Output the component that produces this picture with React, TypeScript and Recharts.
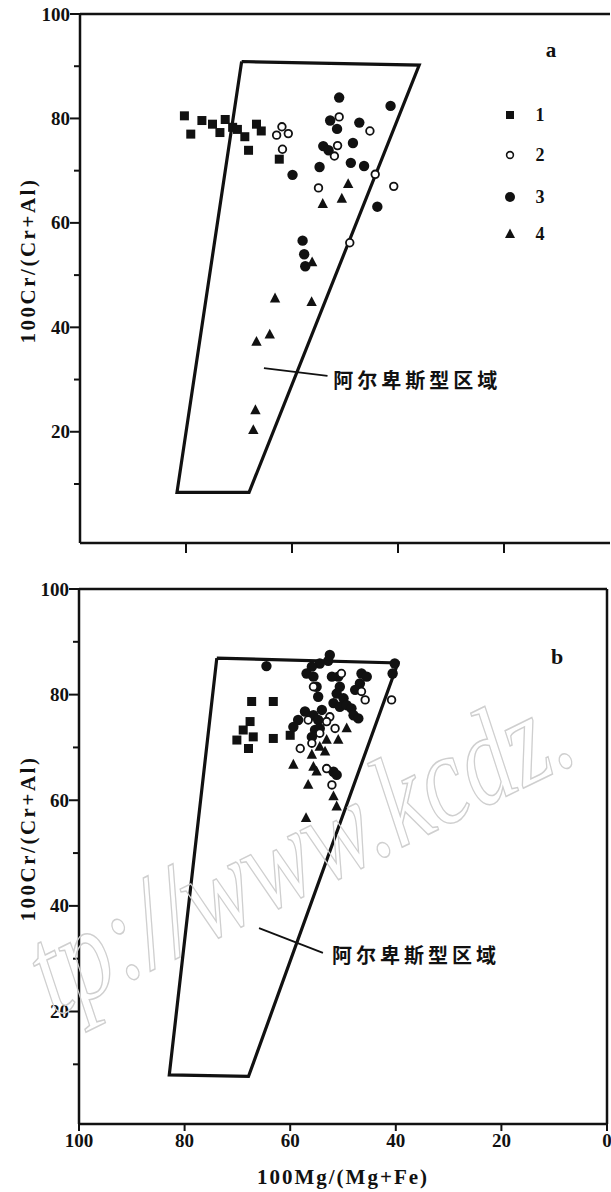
import React from "react";
import {
  ScatterChart,
  Scatter,
  XAxis,
  YAxis,
  ReferenceLine,
  Legend,
  Label,
} from "recharts";

// axes
const xTicks = [100, 80, 60, 40, 20, 0];
const yTicks = [10, 20, 30, 40, 50, 60, 70, 80, 90, 100];
const yLabelled = [20, 40, 60, 80, 100];
const legendLabels = ["1", "2", "3", "4"];
const regionName = "阿尔卑斯型区域";
const watermark = "tp://www.kcdz.";

// panel a
const aRegion = [
  { x: 69.5, y: 90.9 },
  { x: 36.0, y: 90.2 },
  { x: 68.1, y: 8.4 },
  { x: 81.7, y: 8.4 },
  { x: 69.5, y: 90.9 },
];
const aType1 = [
  { x: 80.3, y: 80.5 }, { x: 79.1, y: 77.0 }, { x: 77.0, y: 79.6 }, { x: 75.0, y: 78.9 },
  { x: 73.6, y: 77.3 }, { x: 72.6, y: 79.8 }, { x: 71.2, y: 78.3 }, { x: 70.3, y: 77.9 },
  { x: 68.9, y: 76.5 }, { x: 68.2, y: 73.9 }, { x: 66.7, y: 78.9 }, { x: 65.8, y: 77.6 },
  { x: 62.4, y: 72.2 },
];
const aType2 = [
  { x: 61.9, y: 78.4 }, { x: 62.9, y: 76.8 }, { x: 60.7, y: 77.1 }, { x: 61.8, y: 74.1 },
  { x: 51.1, y: 80.3 }, { x: 45.3, y: 77.6 }, { x: 51.4, y: 74.8 }, { x: 52.0, y: 72.8 },
  { x: 55.0, y: 66.7 }, { x: 40.8, y: 67.0 }, { x: 44.3, y: 69.3 }, { x: 49.1, y: 56.2 },
];
const aType3 = [
  { x: 51.1, y: 84.0 }, { x: 41.4, y: 82.4 }, { x: 52.8, y: 79.6 }, { x: 51.5, y: 78.0 },
  { x: 47.3, y: 79.2 }, { x: 48.5, y: 75.3 }, { x: 54.1, y: 74.7 }, { x: 53.1, y: 73.9 },
  { x: 54.8, y: 70.7 }, { x: 48.9, y: 71.5 }, { x: 46.4, y: 70.9 }, { x: 59.9, y: 69.2 },
  { x: 43.9, y: 63.1 }, { x: 58.0, y: 56.6 }, { x: 57.7, y: 54.0 }, { x: 57.5, y: 51.7 },
];
const aType4 = [
  { x: 49.4, y: 67.4 }, { x: 50.6, y: 64.6 }, { x: 54.2, y: 63.6 }, { x: 56.2, y: 52.4 },
  { x: 63.2, y: 45.5 }, { x: 56.3, y: 44.8 }, { x: 66.7, y: 37.2 }, { x: 64.2, y: 38.6 },
  { x: 66.9, y: 24.1 }, { x: 67.3, y: 20.3 },
];
const aLeader = [{ x: 65.3, y: 32.2 }, { x: 53.3, y: 30.7 }];
const aNote = [{ x: 52.2, y: 30.1 }];

// panel b
const bRegion = [
  { x: 73.9, y: 86.9 },
  { x: 39.6, y: 86.0 },
  { x: 67.9, y: 7.7 },
  { x: 82.9, y: 8.0 },
  { x: 73.9, y: 86.9 },
];
const bType1 = [
  { x: 67.3, y: 78.7 }, { x: 63.2, y: 78.7 }, { x: 67.6, y: 74.9 }, { x: 68.9, y: 73.3 },
  { x: 67.0, y: 72.0 }, { x: 70.1, y: 71.4 }, { x: 67.9, y: 69.8 }, { x: 63.2, y: 71.7 },
  { x: 60.0, y: 72.3 },
];
const bType2 = [
  { x: 50.3, y: 84.0 }, { x: 55.6, y: 81.5 }, { x: 46.5, y: 80.6 }, { x: 45.8, y: 79.0 },
  { x: 40.8, y: 79.0 }, { x: 56.6, y: 75.2 }, { x: 52.5, y: 75.8 }, { x: 51.5, y: 73.6 },
  { x: 54.4, y: 72.7 }, { x: 55.9, y: 70.8 }, { x: 58.1, y: 69.8 }, { x: 53.1, y: 66.0 },
  { x: 52.1, y: 62.9 }, { x: 53.1, y: 74.9 },
];
const bType3 = [
  { x: 64.5, y: 85.4 }, { x: 52.5, y: 87.5 }, { x: 52.8, y: 86.4 }, { x: 54.4, y: 85.9 },
  { x: 55.9, y: 85.3 }, { x: 56.9, y: 84.0 }, { x: 55.6, y: 83.4 }, { x: 55.0, y: 81.5 },
  { x: 54.7, y: 79.6 }, { x: 50.9, y: 83.4 }, { x: 50.6, y: 81.5 }, { x: 51.2, y: 80.2 },
  { x: 49.9, y: 79.3 }, { x: 51.8, y: 78.4 }, { x: 50.6, y: 77.7 }, { x: 49.3, y: 78.0 },
  { x: 48.4, y: 77.4 }, { x: 48.0, y: 76.1 }, { x: 47.1, y: 75.5 }, { x: 46.5, y: 84.0 },
  { x: 46.8, y: 82.1 }, { x: 45.5, y: 83.4 }, { x: 47.7, y: 80.9 }, { x: 40.2, y: 85.9 },
  { x: 40.6, y: 84.0 }, { x: 52.1, y: 83.4 }, { x: 57.2, y: 76.8 }, { x: 58.5, y: 75.2 },
  { x: 59.4, y: 73.9 }, { x: 55.6, y: 76.1 }, { x: 54.7, y: 75.2 }, { x: 55.3, y: 73.3 },
  { x: 55.9, y: 72.0 }, { x: 54.4, y: 73.6 }, { x: 51.8, y: 65.4 }, { x: 51.2, y: 64.8 },
  { x: 54.0, y: 77.1 },
];
const bType4 = [
  { x: 49.3, y: 73.6 }, { x: 50.9, y: 71.4 }, { x: 53.1, y: 71.4 }, { x: 53.4, y: 69.2 },
  { x: 55.3, y: 72.7 }, { x: 55.9, y: 68.6 }, { x: 59.4, y: 66.7 }, { x: 55.6, y: 66.3 },
  { x: 55.0, y: 65.4 }, { x: 56.6, y: 62.9 }, { x: 51.8, y: 60.7 }, { x: 51.2, y: 58.8 },
  { x: 57.0, y: 56.6 }, { x: 54.4, y: 70.1 },
];
const bLeader = [{ x: 65.9, y: 35.8 }, { x: 53.8, y: 31.1 }];
const bNote = [{ x: 52.1, y: 30.7 }];

const SERIF = "'Liberation Serif', 'Times New Roman', serif";
const CJK = "'Noto Sans CJK SC', sans-serif";
const INK = "#111";

const Square = (p: any) => (
  <rect x={p.cx - 4.5} y={p.cy - 4.5} width={9} height={9} fill={INK} />
);
const OpenCircle = (p: any) => (
  <circle cx={p.cx} cy={p.cy} r={3.8} fill="#fff" stroke={INK} strokeWidth={1.8} />
);
const Dot = (p: any) => <circle cx={p.cx} cy={p.cy} r={5.2} fill={INK} />;
const Tri = (p: any) => (
  <polygon
    points={`${p.cx},${p.cy - 6} ${p.cx + 5.2},${p.cy + 3.8} ${p.cx - 5.2},${p.cy + 3.8}`}
    fill={INK}
  />
);
const Nothing = () => <g />;
const NoteText = (p: any) => (
  <text
    x={p.cx}
    y={p.cy}
    dominantBaseline="central"
    fontFamily={CJK}
    fontWeight={700}
    fontSize={20}
    letterSpacing={4}
    fill={INK}
  >
    {regionName}
  </text>
);

function YTick(props: any) {
  const { x, y, payload } = props;
  const major = yLabelled.includes(payload.value);
  return (
    <g>
      <line x1={x - (major ? 10 : 6)} x2={x} y1={y} y2={y} stroke={INK} strokeWidth={2} />
      {major && (
        <text
          x={x - 10}
          y={y}
          dy={6.5}
          textAnchor="end"
          fontFamily={SERIF}
          fontWeight="bold"
          fontSize={19}
          fill={INK}
        >
          {payload.value}
        </text>
      )}
    </g>
  );
}

function XTickA(props: any) {
  const { x, y } = props;
  return <line x1={x} x2={x} y1={y} y2={y + 10} stroke={INK} strokeWidth={2} />;
}

function XTickB(props: any) {
  const { x, y, payload } = props;
  return (
    <g>
      <line x1={x} x2={x} y1={y} y2={y + 7} stroke={INK} strokeWidth={2} />
      <text
        x={x}
        y={y + 23}
        textAnchor="middle"
        fontFamily={SERIF}
        fontWeight="bold"
        fontSize={19}
        fill={INK}
      >
        {payload.value}
      </text>
    </g>
  );
}

function yTitle(props: any) {
  const vb = props.viewBox;
  const cx = vb.x + 28;
  const cy = vb.y + vb.height / 2 - 18;
  return (
    <text
      x={cx}
      y={cy}
      transform={`rotate(-90 ${cx} ${cy})`}
      textAnchor="middle"
      dominantBaseline="central"
      fontFamily={SERIF}
      fontWeight="bold"
      fontSize={21}
      letterSpacing={2.5}
      fill={INK}
    >
      100Cr/(Cr+Al)
    </text>
  );
}

function LegendA() {
  const symbols = [
    <rect x={-4} y={-4} width={8} height={8} fill={INK} />,
    <circle r={3.4} fill="#fff" stroke={INK} strokeWidth={1.6} />,
    <circle r={5} fill={INK} />,
    <polygon points="0,-5.5 5,4 -5,4" fill={INK} />,
  ];
  const rows = [0, 40, 82, 119];
  return (
    <svg width={90} height={170} style={{ overflow: "visible" }}>
      <text
        x={55}
        y={-6}
        textAnchor="middle"
        fontFamily={SERIF}
        fontWeight="bold"
        fontSize={21}
        fill={INK}
      >
        a
      </text>
      {legendLabels.map((l, i) => (
        <g key={l} transform={`translate(14, ${rows[i] + 52})`}>
          {symbols[i]}
          <text
            x={30}
            y={6}
            textAnchor="middle"
            fontFamily={SERIF}
            fontWeight="bold"
            fontSize={18}
            fill={INK}
          >
            {l}
          </text>
        </g>
      ))}
    </svg>
  );
}

function LegendB() {
  return (
    <svg width={40} height={30}>
      <text
        x={20}
        y={22}
        textAnchor="middle"
        fontFamily={SERIF}
        fontWeight="bold"
        fontSize={22}
        fill={INK}
      >
        b
      </text>
    </svg>
  );
}

const axisLine = { stroke: INK, strokeWidth: 2.5 };

function PanelA() {
  return (
    <ScatterChart width={611} height={570} margin={{ top: 14, right: 1, bottom: 0, left: 0 }}>
      <XAxis
        type="number"
        dataKey="x"
        domain={[0, 100]}
        reversed
        ticks={xTicks.slice(1, 5)}
        tick={XTickA}
        tickLine={false}
        tickSize={0}
        tickMargin={0}
        axisLine={axisLine}
        height={27}
        allowDataOverflow
      />
      <YAxis
        type="number"
        dataKey="y"
        domain={[-1.3, 100]}
        ticks={yTicks}
        tick={YTick}
        tickLine={false}
        tickSize={0}
        tickMargin={0}
        axisLine={axisLine}
        width={80}
        allowDataOverflow
      >
        <Label content={yTitle} />
      </YAxis>
      <ReferenceLine y={100} stroke={INK} strokeWidth={2.5} />
      <Legend
        layout="horizontal"
        verticalAlign="middle"
        align="center"
        content={LegendA}
        wrapperStyle={{ left: 496, top: 63, width: 90, height: 170 }}
      />
      <Scatter data={aRegion} line={{ stroke: INK, strokeWidth: 3.2 }} shape={Nothing} isAnimationActive={false} />
      <ReferenceLine segment={aLeader} stroke={INK} strokeWidth={1.8} />
      <Scatter data={aNote} shape={NoteText} isAnimationActive={false} />
      <Scatter data={aType1} shape={Square} isAnimationActive={false} />
      <Scatter data={aType3} shape={Dot} isAnimationActive={false} />
      <Scatter data={aType4} shape={Tri} isAnimationActive={false} />
      <Scatter data={aType2} shape={OpenCircle} isAnimationActive={false} />
    </ScatterChart>
  );
}

function PanelB() {
  return (
    <ScatterChart width={611} height={622} margin={{ top: 19, right: 4, bottom: 0, left: 0 }}>
      <XAxis
        type="number"
        dataKey="x"
        domain={[0, 100]}
        reversed
        ticks={xTicks}
        tick={XTickB}
        tickLine={false}
        tickSize={0}
        tickMargin={0}
        axisLine={axisLine}
        height={68}
        allowDataOverflow
      >
        <Label
          value="100Mg/(Mg+Fe)"
          position="insideBottom"
          offset={8}
          fontFamily={SERIF}
          fontWeight="bold"
          fontSize={21}
          letterSpacing={2}
          fill={INK}
        />
      </XAxis>
      <YAxis
        type="number"
        dataKey="y"
        domain={[-1.3, 100]}
        ticks={yTicks}
        tick={YTick}
        tickLine={false}
        tickSize={0}
        tickMargin={0}
        axisLine={axisLine}
        width={79}
        allowDataOverflow
      >
        <Label content={yTitle} />
      </YAxis>
      <ReferenceLine y={100} stroke={INK} strokeWidth={2.5} />
      <ReferenceLine x={0} stroke={INK} strokeWidth={2.5} />
      <Legend
        layout="horizontal"
        verticalAlign="middle"
        align="center"
        content={LegendB}
        wrapperStyle={{ left: 537, top: 72, width: 40, height: 30 }}
      />
      <Scatter data={bRegion} line={{ stroke: INK, strokeWidth: 3.2 }} shape={Nothing} isAnimationActive={false} />
      <ReferenceLine segment={bLeader} stroke={INK} strokeWidth={1.8} />
      <Scatter data={bNote} shape={NoteText} isAnimationActive={false} />
      <Scatter data={bType1} shape={Square} isAnimationActive={false} />
      <Scatter data={bType3} shape={Dot} isAnimationActive={false} />
      <Scatter data={bType4} shape={Tri} isAnimationActive={false} />
      <Scatter data={bType2} shape={OpenCircle} isAnimationActive={false} />
    </ScatterChart>
  );
}

export default function App() {
  return (
    <div
      style={{
        position: "absolute",
        top: 0,
        left: 0,
        width: 611,
        height: 1192,
        overflow: "hidden",
        background: "#fff",
      }}
    >
      <div style={{ position: "absolute", top: 0, left: 0 }}>
        <PanelA />
      </div>
      <div style={{ position: "absolute", top: 570, left: 0 }}>
        <PanelB />
      </div>
      <svg
        width={611}
        height={1192}
        style={{ position: "absolute", top: 0, left: 0, pointerEvents: "none" }}
      >
        <text
          transform="translate(54 1017) rotate(-26) scale(1.0 1.3)"
          fontFamily={SERIF}
          fontStyle="italic"
          fontSize={100}
          fill="none"
          stroke="#cfcfcf"
          strokeWidth={1.2}
        >
          {watermark}
        </text>
      </svg>
    </div>
  );
}
